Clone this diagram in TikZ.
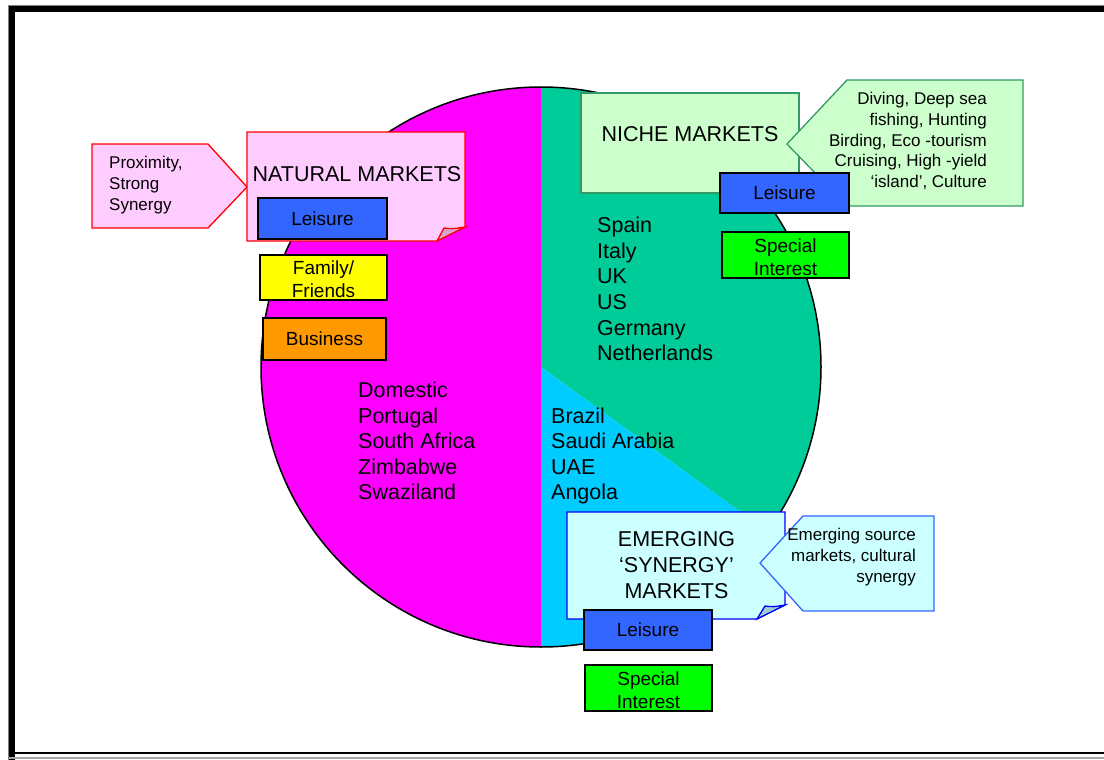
\documentclass[tikz,border=0pt]{standalone}
\usepackage{fontspec}
\setmainfont{Liberation Sans}

\definecolor{natfill}{HTML}{FFCCFF}
\definecolor{natfold}{HTML}{D9A3D0}
\definecolor{nichefill}{HTML}{CCFFCC}
\definecolor{nicheline}{HTML}{339966}
\definecolor{emfill}{HTML}{CCFFFF}
\definecolor{emfold}{HTML}{A3CCCC}
\definecolor{emline}{HTML}{3366FF}
\definecolor{piemag}{HTML}{FF00FF}
\definecolor{pieteal}{HTML}{00CC99}
\definecolor{piecyan}{HTML}{00CCFF}
\definecolor{leisureblue}{HTML}{3366FF}
\definecolor{familyyellow}{HTML}{FFFF00}
\definecolor{businessorange}{HTML}{FF9900}
\definecolor{specialgreen}{HTML}{00FF00}

% two centred lines, sitting a little low in their box
\newcommand{\twolines}[2]{\raisebox{-8.5pt}[0pt][0pt]{\begin{tabular}{@{}c@{}}#1\\#2\end{tabular}}}

\tikzset{
  title/.style={font=\fontsize{21.5}{26}\selectfont, align=center, inner sep=0pt},
  countries/.style={font=\fontsize{21.5}{25.6}\selectfont, align=left, anchor=west, inner sep=0pt},
  note/.style={font=\fontsize{17}{20.7}\selectfont, inner sep=0pt},
  segment/.style={draw=black, line width=1.6pt, minimum width=128pt, minimum height=41pt,
    inner sep=0pt, font=\fontsize{19}{23}\selectfont, align=center},
}

\begin{document}
\begin{tikzpicture}[x=1pt, y=-1pt]
  \useasboundingbox (0,0) rectangle (1104,760);

  % page frame
  \draw[gray, line width=1pt] (8.5,760) -- (8.5,6) -- (1104,6);
  \draw[line width=6pt] (12,760) -- (12,9) -- (1104,9);
  \draw[line width=2pt] (14,753) -- (1104,753);
  \draw[gray!70, line width=2pt] (9,757.5) -- (1104,757.5);

  % pie
  \coordinate (c) at (541,367);
  \fill[piemag] (c) -- ++(0,-280) arc[start angle=-90, end angle=-270, radius=280] -- cycle;
  \fill[pieteal] (c) -- ++(0,-280) arc[start angle=-90, end angle=36, radius=280] -- cycle;
  \fill[piecyan] (c) -- ++(36:280) arc[start angle=36, end angle=90, radius=280] -- cycle;
  \draw[line width=1.5pt] (c) circle[radius=280];

  % natural markets
  \draw[red, line width=1.3pt, fill=natfill] (92,144) -- (208,144) -- (247,187) -- (208,228) -- (92,228) -- cycle;
  \node[note, align=left, anchor=west] (natnote) at (109,185) {Proximity,\\Strong\\Synergy};
  \draw[red, line width=1.3pt, fill=natfill] (247,132) -- (465,132) -- (465,227) -- (437,241) -- (247,241) -- cycle;
  \draw[red, line width=1.3pt, fill=natfold] (437,241) -- (444,228) .. controls (452,229) .. (465,227) -- cycle;
  \node[title] (natural) at (357,174) {NATURAL MARKETS};
  \node[segment, fill=leisureblue, minimum width=129pt] (natleisure) at (322.5,218.5) {Leisure};
  \node[segment, fill=familyyellow, minimum width=127pt, minimum height=45pt] (family) at (323.5,277.5) {\twolines{Family/}{Friends}};
  \node[segment, fill=businessorange, minimum width=123pt, minimum height=42pt] (business) at (324.5,339) {Business};
  \node[countries] (domestic) at (358,441) {Domestic\\Portugal\\South Africa\\Zimbabwe\\Swaziland};

  % niche markets
  \draw[nicheline, line width=1.3pt, fill=nichefill] (581,93) rectangle (799,193);
  \node[title] (niche) at (690,134.5) {NICHE MARKETS};
  \draw[nicheline, line width=1.3pt, fill=nichefill] (787,144) -- (847,80) -- (1023,80) -- (1023,206) -- (847,206) -- cycle;
  \node[note, align=right, anchor=east] (nichenote) at (987,141)
    {Diving, Deep sea\\fishing, Hunting\\Birding, Eco -tourism\\Cruising, High -yield\\‘island’, Culture};
  \node[segment, fill=leisureblue, minimum width=129pt, minimum height=40pt] (nicheleisure) at (784.5,193) {Leisure};
  \node[segment, fill=specialgreen, minimum width=127pt, minimum height=46pt] (nichespecial) at (785.5,255) {\twolines{Special}{Interest}};
  \node[countries] (nichelist) at (597,289) {Spain\\Italy\\UK\\US\\Germany\\Netherlands};

  % emerging markets
  \node[countries] (emlist) at (551,456) {Brazil\\Saudi Arabia\\UAE\\Angola};
  \draw[blue, line width=1.3pt, fill=emfill] (567,512) -- (785,512) -- (785,605) -- (757,619) -- (567,619) -- cycle;
  \draw[blue, line width=1.3pt, fill=emfold] (757,619) -- (765,606) .. controls (773,607) .. (785,605) -- cycle;
  \node[title] (emerging) at (676.5,565) {EMERGING\\‘SYNERGY’\\MARKETS};
  \draw[emline, line width=1.3pt, fill=emfill] (760,563) -- (803,516) -- (934,516) -- (934,611) -- (803,611) -- cycle;
  \node[note, align=right, anchor=east] (emnote) at (916,557) {Emerging source\\markets, cultural\\synergy};
  \node[segment, fill=leisureblue, minimum height=40pt] (emleisure) at (648,630) {Leisure};
  \node[segment, fill=specialgreen, minimum width=127pt, minimum height=46pt] (emspecial) at (648.5,688) {\twolines{Special}{Interest}};
\end{tikzpicture}
\end{document}
